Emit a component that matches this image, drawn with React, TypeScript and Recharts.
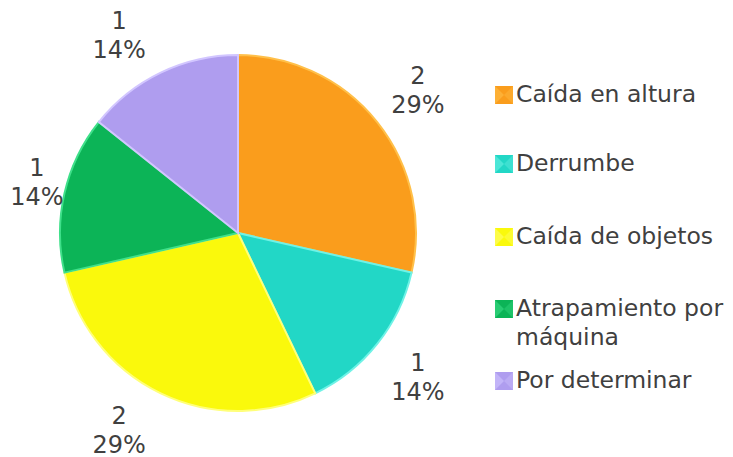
import { PieChart, Pie, Cell, Legend } from 'recharts';

const categories = ['Caída en altura', 'Derrumbe', 'Caída de objetos', 'Atrapamiento por máquina', 'Por determinar'];
const counts = [2, 1, 2, 1, 1];
const colors = ['#FA9D1C', '#22D7C6', '#FAF90C', '#0CB457', '#AF9DEF'];
const edgeColors = ['#FFC04A', '#6FF2E6', '#FFFF7A', '#3FE08A', '#D2C6FF'];

const chartData = categories.map((name, i) => ({ name, value: counts[i] }));
const total = counts.reduce((s, v) => s + v, 0);

const RAD = Math.PI / 180;
const FONT = '"DejaVu Sans", Verdana, sans-serif';
const TEXT = '#404040';

// data labels sit outside the pie, nudged back inside the chart area like Excel does
const renderLabel = (props: any) => {
  const { cx, cy, outerRadius, midAngle, value } = props;
  const r = outerRadius + 52;
  let dx = r * Math.cos(-midAngle * RAD);
  const rawTop = cy + r * Math.sin(-midAngle * RAD) - 14;
  const top = Math.min(Math.max(rawTop, 20), 415);
  if (top !== rawTop) dx *= 1.19;
  const x = Math.max(cx + dx, 37);
  const pct = `${Math.round((value / total) * 100)}%`;
  return (
    <text x={x} y={top + 8.5} textAnchor="middle" fill={TEXT} fontSize={24} fontFamily={FONT}>
      <tspan x={x} dy={0}>{value}</tspan>
      <tspan x={x} dy={29}>{pct}</tspan>
    </text>
  );
};

const Marker = ({ color, edge }: { color: string; edge: string }) => (
  <svg width={18} height={18} style={{ flex: 'none', marginTop: 6 }}>
    <rect x={0} y={0} width={18} height={18} fill={color} />
    <polygon points="0,0 9,9 0,18" fill={edge} opacity={0.55} />
    <polygon points="18,0 9,9 18,18" fill={edge} opacity={0.35} />
  </svg>
);

const legendTops = [80, 149, 222, 294, 366];

const renderLegend = () => (
  <div style={{ position: 'relative', width: 240, height: 457, fontFamily: FONT, fontSize: 23.5, color: TEXT }}>
    {categories.map((name, i) => (
      <div
        key={name}
        style={{ position: 'absolute', left: 0, top: legendTops[i], display: 'flex', alignItems: 'flex-start', lineHeight: '29px' }}
      >
        <Marker color={colors[i]} edge={edgeColors[i]} />
        <span style={{ marginLeft: 3, width: 222 }}>{name}</span>
      </div>
    ))}
  </div>
);

export default function App() {
  return (
    <div style={{ position: 'absolute', left: 0, top: 0, width: 733, height: 457, background: '#fff', overflow: 'hidden' }}>
      <PieChart width={733} height={457} margin={{ top: 0, right: 0, bottom: 0, left: 0 }}>
        <Pie
          data={chartData}
          dataKey="value"
          nameKey="name"
          cx={238}
          cy={233}
          outerRadius={178}
          startAngle={90}
          endAngle={-270}
          label={renderLabel}
          labelLine={false}
          isAnimationActive={false}
        >
          {chartData.map((d, i) => (
            <Cell key={d.name} fill={colors[i]} stroke={edgeColors[i]} strokeWidth={2} />
          ))}
        </Pie>
        <Legend
          content={renderLegend}
          wrapperStyle={{ position: 'absolute', left: 495, top: 0, width: 240, height: 457 }}
        />
      </PieChart>
    </div>
  );
}
